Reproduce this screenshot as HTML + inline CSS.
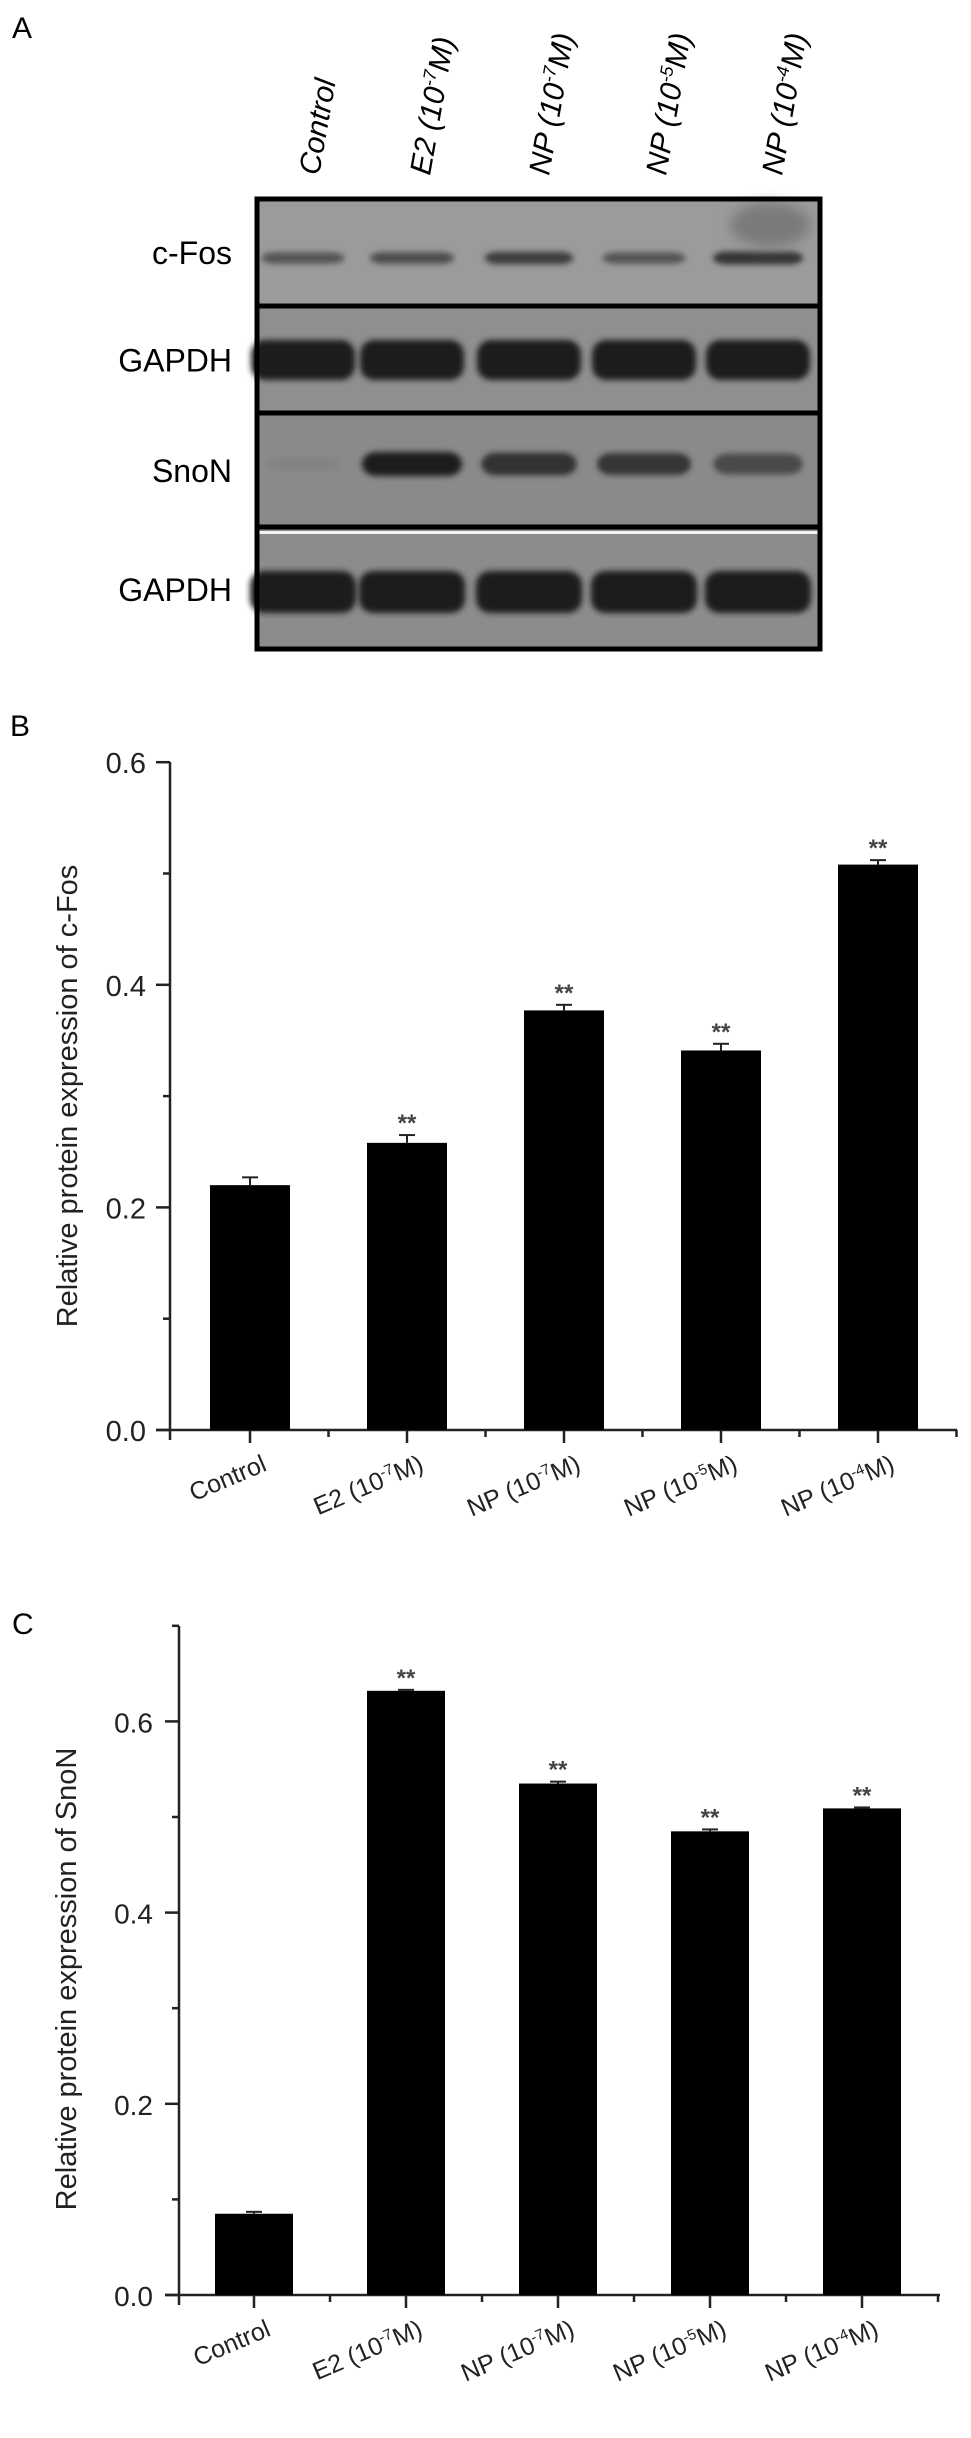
<!DOCTYPE html>
<html><head><meta charset="utf-8">
<style>
html,body{margin:0;padding:0;background:#fff;}
svg{display:block;font-family:"Liberation Sans",Arial,sans-serif;}
</style></head>
<body>
<svg id="fig" width="971" height="2438" viewBox="0 0 971 2438" xmlns="http://www.w3.org/2000/svg">
<defs>
<filter id="blur3" x="-20%" y="-50%" width="140%" height="200%"><feGaussianBlur stdDeviation="3"/></filter>
<filter id="blur6" x="-20%" y="-50%" width="140%" height="200%"><feGaussianBlur stdDeviation="6"/></filter>
</defs>
<text x="12" y="38" font-size="30">A</text>
<text x="10" y="736" font-size="30">B</text>
<text x="12" y="1634" font-size="30">C</text>
<g id="blot"></g>
<g id="chartB"></g>
<g id="chartC"></g>
</svg>
<script>
// ---- shared category labels ----
const labelPrefix = ['Control', 'E2 (10', 'NP (10', 'NP (10', 'NP (10'];
const labelExp = ['', '-7', '-7', '-5', '-4'];
const labelSuffix = ['', 'M)', 'M)', 'M)', 'M)'];
// ---- chart B (c-Fos) data ----
const cfosValues = [0.220, 0.258, 0.377, 0.341, 0.508];
const cfosErrors = [0.007, 0.007, 0.005, 0.006, 0.004];
const cfosSig = ['', '**', '**', '**', '**'];
const cfosTicks = ['0.0', '0.2', '0.4', '0.6'];
// ---- chart C (SnoN) data ----
const snonValues = [0.085, 0.632, 0.535, 0.485, 0.509];
const snonErrors = [0.002, 0.001, 0.002, 0.002, 0.001];
const snonSig = ['', '**', '**', '**', '**'];
const snonTicks = ['0.0', '0.2', '0.4', '0.6'];
// ---- blot band intensities (0..1) ----
const bandCfos = [0.55, 0.6, 0.75, 0.55, 0.8];
const bandGapdh1 = [1, 1, 1, 1, 1];
const bandSnon = [0.15, 1, 0.85, 0.8, 0.65];
const bandGapdh2 = [1, 1, 1, 1, 1];

const NS = 'http://www.w3.org/2000/svg';
function mk(tag, attrs, parent) {
  const e = document.createElementNS(NS, tag);
  for (const k in attrs) e.setAttribute(k, attrs[k]);
  parent.appendChild(e);
  return e;
}
function labelText(parent, i, size) {
  const t = mk('text', {}, parent);
  t.appendChild(document.createTextNode(labelPrefix[i]));
  if (labelExp[i]) {
    const s = mk('tspan', {'font-size': size * 0.6, dy: -size * 0.38}, t);
    s.textContent = labelExp[i];
    const r = mk('tspan', {dy: size * 0.38}, t);
    r.textContent = labelSuffix[i];
  }
  return t;
}

// ---------------- Blot ----------------
(function () {
  const g = document.getElementById('blot');
  const laneX = [303, 412, 529, 644, 758];
  const left = 259, right = 818;
  // lane labels
  for (let i = 0; i < 5; i++) {
    const t = labelText(g, i, 30);
    t.setAttribute('font-size', '30');
    t.setAttribute('font-style', 'italic');
    t.setAttribute('text-anchor', 'start');
    t.setAttribute('transform', 'translate(' + (laneX[i] + 16 + i * 2) + ',176) rotate(-80)');
    
    
  }
  const panels = [
    {y0: 198, y1: 306, bg: '#9b9b9b', bands: bandCfos, cy: 258, h: 14, name: 'c-Fos', w: 96},
    {y0: 306, y1: 413, bg: '#8f8f8f', bands: bandGapdh1, cy: 360, h: 40, name: 'GAPDH', w: 104},
    {y0: 413, y1: 527, bg: '#8a8a8a', bands: bandSnon, cy: 464, h: 24, name: 'SnoN', w: 100},
    {y0: 527, y1: 651, bg: '#8c8c8c', bands: bandGapdh2, cy: 592, h: 42, name: 'GAPDH', w: 106}
  ];
  panels.forEach(function (p, pi) {
    const bg = mk('rect', {x: left, y: p.y0, width: right - left, height: p.y1 - p.y0, fill: p.bg}, g);
    
    
    for (let i = 0; i < 5; i++) {
      const v = p.bands[i];
      const shade = Math.round(150 - v * 120);
      const b = mk('rect', {x: laneX[i] - p.w / 2 * (0.7 + 0.3 * v), y: p.cy - p.h / 2 * (0.6 + 0.4 * v),
        width: p.w * (0.7 + 0.3 * v), height: p.h * (0.6 + 0.4 * v), rx: 14,
        fill: 'rgb(' + shade + ',' + shade + ',' + shade + ')', filter: 'url(#blur3)'}, g);
      
      
    }
    const lab = mk('text', {x: 232, y: (p.y0 + p.y1) / 2 + 12, 'font-size': 32, 'text-anchor': 'end'}, g);
    lab.textContent = p.name;
    
    
  });
  // smudge in lane 5 c-Fos
  mk('ellipse', {cx: 770, cy: 225, rx: 40, ry: 22, fill: '#7a7a7a', filter: 'url(#blur6)'}, g);
  // white line in last panel
  mk('rect', {x: left, y: 531, width: right - left, height: 3, fill: '#f4f4f4'}, g);
  // borders
  const bd = mk('rect', {x: left - 2, y: 199, width: right - left + 4, height: 450, fill: 'none', stroke: '#000', 'stroke-width': 5}, g);
  
  
  [306, 413, 527].forEach(function (y) {
    mk('rect', {x: left, y: y - 2.5, width: right - left, height: 5, fill: '#000'}, g);
  });
})();

// ---------------- Bar chart builder ----------------
function barChart(gid, cfg, values, errors, sig, ticks) {
  const g = document.getElementById(gid);
  const yS = v => cfg.y0 - v * cfg.pxPerUnit;
  const xS = i => cfg.cx0 + i * cfg.step;
  const axisY = yS(0);
  // y axis
  const ya = mk('line', {x1: cfg.ax, y1: cfg.top, x2: cfg.ax, y2: axisY + 10, stroke: '#222', 'stroke-width': 2.5}, g);
  
  
  const xa = mk('line', {x1: cfg.ax - 14, y1: axisY, x2: cfg.right, y2: axisY, stroke: '#222', 'stroke-width': 2.5}, g);
  
  
  // y ticks
  ticks.forEach(function (lab) {
    const v = parseFloat(lab);
    const y = yS(v);
    mk('line', {x1: cfg.ax - 14, y1: y, x2: cfg.ax, y2: y, stroke: '#222', 'stroke-width': 2.5}, g);
    const t = mk('text', {x: cfg.tickRight, y: y + 11, 'font-size': cfg.tickSize, 'text-anchor': 'end', fill: '#222'}, g);
    t.textContent = lab;
    
    
  });
  cfg.minor.forEach(function (v) {
    const y = yS(v);
    mk('line', {x1: cfg.ax - 7, y1: y, x2: cfg.ax, y2: y, stroke: '#222', 'stroke-width': 2.5}, g);
  });
  // x ticks
  for (let i = 0; i < values.length; i++) {
    mk('line', {x1: xS(i), y1: axisY, x2: xS(i), y2: axisY + 13, stroke: '#222', 'stroke-width': 2.5}, g);
    mk('line', {x1: xS(i) + cfg.step / 2, y1: axisY, x2: xS(i) + cfg.step / 2, y2: axisY + 7, stroke: '#222', 'stroke-width': 2.5}, g);
  }
  // bars
  values.forEach(function (v, i) {
    const cx = xS(i);
    const top = yS(v);
    const bar = mk('rect', {x: cx - cfg.bw / 2, y: top, width: cfg.bw, height: axisY - top, fill: '#000'}, g);
    
    
    const et = yS(v + errors[i]);
    const eb = mk('line', {x1: cx, y1: top, x2: cx, y2: et, stroke: '#222', 'stroke-width': 2}, g);
    
    
    mk('line', {x1: cx - 8, y1: et, x2: cx + 8, y2: et, stroke: '#222', 'stroke-width': 2}, g);
    if (sig[i]) {
      const s = mk('text', {x: cx, y: et - 4, 'font-size': 24, 'font-weight': 'bold', 'text-anchor': 'middle', fill: '#444'}, g);
      s.textContent = sig[i];
      
      
    }
    const t = labelText(g, i, 25);
    t.setAttribute('font-size', '25');
    t.setAttribute('text-anchor', 'end');
    t.setAttribute('fill', '#222');
    t.setAttribute('transform', 'translate(' + (cx + 18) + ',' + (axisY + 40) + ') rotate(-23)');
    
    
  });
  const yt = mk('text', {'font-size': cfg.titleSize, 'text-anchor': 'middle', fill: '#222',
    transform: 'translate(' + cfg.titleX + ',' + cfg.titleY + ') rotate(-90)'}, g);
  yt.textContent = cfg.title;
  
  
}

barChart('chartB', {y0: 1430, pxPerUnit: 1113, cx0: 250, step: 157, bw: 80, ax: 170, top: 762, right: 957,
  tickRight: 146, tickSize: 29, minor: [0.1, 0.3, 0.5],
  title: 'Relative protein expression of c-Fos', titleX: 77, titleY: 1096, titleSize: 29},
  cfosValues, cfosErrors, cfosSig, cfosTicks);

barChart('chartC', {y0: 2295, pxPerUnit: 956, cx0: 254, step: 152, bw: 78, ax: 179, top: 1626, right: 940,
  tickRight: 153, tickSize: 28, minor: [0.1, 0.3, 0.5, 0.7],
  title: 'Relative protein expression of SnoN', titleX: 76, titleY: 1979, titleSize: 29},
  snonValues, snonErrors, snonSig, snonTicks);
</script>
</body></html>
